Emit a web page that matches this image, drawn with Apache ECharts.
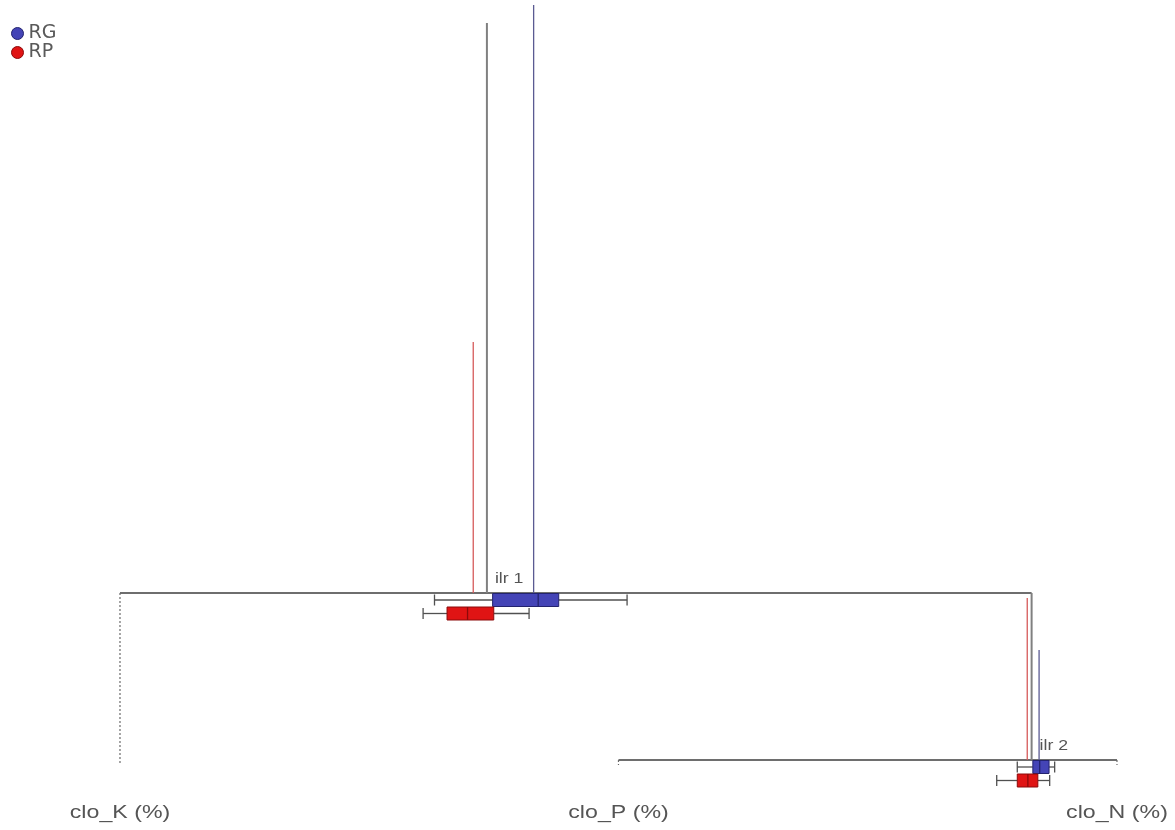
<!DOCTYPE html>
<html>
<head>
<meta charset="utf-8">
<title>Balance dendrogram</title>
<script src="https://cdn.jsdelivr.net/npm/echarts@6/dist/echarts.min.js"></script>
<style>
  html, body { margin: 0; padding: 0; background: #ffffff; }
  #chart { width: 1175px; height: 830px; }
</style>
</head>
<body>
<div id="chart"></div>
<script>
// Parts (leaves of the balance tree), left to right
const parts = ['clo_K (%)', 'clo_P (%)', 'clo_N (%)'];

// Balances: children are 'L<i>' for a part or 'B<i>' for another balance
const balanceNames = ['ilr 1', 'ilr 2'];
const balanceLeft = ['L0', 'L1'];
const balanceRight = ['B1', 'L2'];
const balanceRange = [[-4, 4], [-4, 4]];
const balanceMean = [-0.78, 2.63];
const balanceVar = [0.570, 0.167];
const leafGap = 0.005;

// Groups
const groups = ['RG', 'RP'];
const groupColors = { RG: '#4444b6', RP: '#e01414' };
const groupEdge = { RG: '#23236e', RP: '#8c0a0a' };
const groupLine = { RG: '#5a5a92', RP: '#d65a5a' };
const groupMeans = { RG: [-0.37, 2.75], RP: [-0.90, 2.56] };
const groupVars = { RG: [0.588, 0.110], RP: [0.251, 0.162] };
// [lower whisker, Q1, median, Q3, upper whisker] per balance
const groupStats = {
  RG: [[-1.24, -0.73, -0.33, -0.15, 0.45], [2.40, 2.65, 2.76, 2.91, 3.00]],
  RP: [[-1.34, -1.13, -0.95, -0.72, -0.41], [2.07, 2.40, 2.57, 2.73, 2.92]]
};

// Box placement below each balance line (in variance units)
const boxOffset = 0.007;
const boxStep = 0.0135;
const boxHalf = 0.0065;

// ---- tree layout -------------------------------------------------------
const layout = [];
function posOf(ref) {
  const i = +ref.slice(1);
  return ref[0] === 'L' ? i + 1 : nodeLayout(i).meanX;
}
function nodeLayout(b) {
  if (layout[b]) return layout[b];
  const x0 = posOf(balanceLeft[b]);
  const x1 = posOf(balanceRight[b]);
  const lo = balanceRange[b][0], hi = balanceRange[b][1];
  const toX = v => x0 + (v - lo) / (hi - lo) * (x1 - x0);
  let y = leafGap;
  [balanceLeft[b], balanceRight[b]].forEach(r => {
    if (r[0] === 'B') {
      const c = +r.slice(1);
      y = Math.max(y, nodeLayout(c).y + balanceVar[c]);
    }
  });
  layout[b] = { x0, x1, y, toX, meanX: toX(balanceMean[b]) };
  return layout[b];
}
balanceNames.forEach((_, b) => nodeLayout(b));

function leafParentY(li) {
  const ref = 'L' + li;
  for (let b = 0; b < balanceNames.length; b++) {
    if (balanceLeft[b] === ref || balanceRight[b] === ref) return layout[b].y;
  }
  return 0;
}

const textColor = '#555555';
const treeColor = '#6e6e6e';

function seg(api, a, b, style) {
  const p = api.coord(a), q = api.coord(b);
  return { type: 'line', shape: { x1: p[0], y1: p[1], x2: q[0], y2: q[1] }, style: style };
}

// Balance lines, overall variance bars and balance labels
function renderBalance(params, api) {
  const b = params.dataIndex;
  const n = layout[b];
  const anchor = api.coord([n.meanX, n.y]);
  return {
    type: 'group',
    children: [
      seg(api, [n.x0, n.y], [n.x1, n.y], { stroke: treeColor, lineWidth: 1.8 }),
      seg(api, [n.meanX, n.y], [n.meanX, n.y + balanceVar[b]], { stroke: '#808080', lineWidth: 2 }),
      {
        type: 'text',
        x: anchor[0] + 8, y: anchor[1] - 14,
        scaleX: 1.18,
        style: {
          text: balanceNames[b], x: 0, y: 0,
          fontFamily: 'Liberation Sans', fontSize: 15,
          fill: textColor, align: 'left', verticalAlign: 'middle'
        }
      }
    ]
  };
}

// Leaf connectors and part labels
function renderLeaf(params, api) {
  const li = params.dataIndex;
  const x = li + 1;
  const base = api.coord([x, 0]);
  return {
    type: 'group',
    children: [
      seg(api, [x, leafParentY(li)], [x, 0], { stroke: '#6a6a6a', lineWidth: 1.2, lineDash: [2, 2] }),
      {
        type: 'text',
        x: base[0], y: base[1] + 48,
        scaleX: 1.22,
        style: {
          text: parts[li], x: 0, y: 0,
          fontFamily: 'Liberation Sans', fontSize: 19,
          fill: textColor, align: 'center', verticalAlign: 'middle'
        }
      }
    ]
  };
}

// Group variance bars and box plots for each balance
function makeGroupRenderer(g, gi) {
  return function (params, api) {
    const b = params.dataIndex;
    const n = layout[b];
    const s = groupStats[g][b].map(n.toX);
    const yc = n.y - (boxOffset + gi * boxStep);
    const yt = yc + boxHalf, yb = yc - boxHalf;
    const mx = n.toX(groupMeans[g][b]);
    const tl = api.coord([s[1], yt]);
    const br = api.coord([s[3], yb]);
    const wStyle = { stroke: '#505050', lineWidth: 1.3 };
    return {
      type: 'group',
      children: [
        seg(api, [mx, n.y], [mx, n.y + groupVars[g][b]], { stroke: groupLine[g], lineWidth: 1.3 }),
        seg(api, [s[0], yc], [s[1], yc], wStyle),
        seg(api, [s[3], yc], [s[4], yc], wStyle),
        seg(api, [s[0], yt - 0.001], [s[0], yb + 0.001], wStyle),
        seg(api, [s[4], yt - 0.001], [s[4], yb + 0.001], wStyle),
        {
          type: 'rect',
          shape: { x: tl[0], y: tl[1], width: br[0] - tl[0], height: br[1] - tl[1] },
          style: { fill: groupColors[g], stroke: groupEdge[g], lineWidth: 1 }
        },
        seg(api, [s[2], yt], [s[2], yb], { stroke: groupEdge[g], lineWidth: 1.3 })
      ]
    };
  };
}

const chart = echarts.init(document.getElementById('chart'), null, { renderer: 'canvas' });

const option = {
  animation: false,
  backgroundColor: '#ffffff',
  grid: { left: 0, right: 0, top: 0, bottom: 0 },
  xAxis: { type: 'value', min: 0.7593, max: 3.1164, show: false },
  yAxis: { type: 'value', min: -0.065, max: 0.765, show: false },
  legend: {
    orient: 'vertical',
    left: 11, top: 24,
    padding: 0,
    itemWidth: 12, itemHeight: 12,
    itemGap: 0,
    textStyle: { fontFamily: 'DejaVu Sans', fontSize: 19, color: '#5a5a5a', lineHeight: 17, padding: [0, 0, 0, 0] },
    data: groups.map(g => ({
      name: g, icon: 'circle',
      itemStyle: { color: groupColors[g], borderColor: groupEdge[g], borderWidth: 1 }
    }))
  },
  series: [
    {
      type: 'custom', name: 'balances', coordinateSystem: 'cartesian2d',
      renderItem: renderBalance, clip: false, silent: true, z: 1,
      data: balanceNames.map((_, b) => [layout[b].meanX, layout[b].y])
    },
    {
      type: 'custom', name: 'parts', coordinateSystem: 'cartesian2d',
      renderItem: renderLeaf, clip: false, silent: true, z: 1,
      data: parts.map((_, i) => [i + 1, 0])
    }
  ].concat(groups.map((g, gi) => ({
    type: 'custom', name: g, coordinateSystem: 'cartesian2d',
    renderItem: makeGroupRenderer(g, gi), clip: false, silent: true, z: 3 + gi,
    itemStyle: { color: groupColors[g] },
    data: balanceNames.map((_, b) => [layout[b].meanX, layout[b].y])
  })))
};

chart.setOption(option);
</script>
</body>
</html>
